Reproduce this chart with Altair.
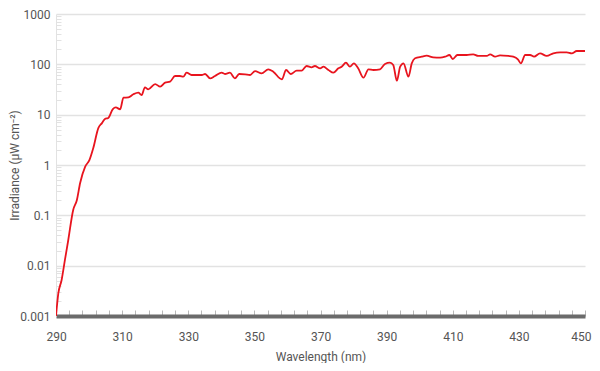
import altair as alt
import pandas as pd

wavelength = [290.0, 290.7, 291.7, 292.7, 293.7, 295.2, 296.3, 297.3, 298.8, 300.1,
              301.3, 302.8, 303.9, 304.8, 305.8, 307.2, 308.1, 309.4, 310.4, 311.9,
              313.4, 314.9, 315.9, 316.9, 317.9, 320.0, 321.5, 323.0, 324.5, 326.0,
              327.5, 328.5, 329.5, 331.0, 332.6, 334.1, 335.1, 336.6, 338.1, 340.1,
              341.1, 342.6, 344.1, 345.4, 347.2, 348.7, 350.2, 352.2, 354.2, 355.7,
              358.3, 359.6, 361.0, 362.8, 364.3, 365.8, 367.3, 368.3, 369.9, 370.9,
              372.4, 373.9, 375.4, 376.4, 377.7, 378.9, 380.1, 381.4, 383.0, 384.5,
              386.0, 388.0, 389.5, 391.0, 392.0, 393.1, 394.1, 395.1, 396.6, 397.6,
              398.6, 400.6, 402.1, 404.1, 406.2, 407.7, 409.0, 410.0, 411.4, 414.2,
              416.2, 417.7, 420.3, 421.3, 422.8, 424.3, 426.8, 428.3, 429.7, 430.6,
              431.9, 433.4, 434.6, 436.4, 438.4, 440.4, 442.5, 444.5, 446.0, 447.5,
              450.0]

irradiance = [0.001, 0.0028, 0.0052, 0.013, 0.032, 0.128, 0.2, 0.44, 0.92, 1.25,
              2.2, 5.4, 6.8, 8.2, 8.6, 12.9, 13.9, 12.8, 21.7, 22.1,
              25.4, 27.3, 24.6, 35.0, 31.9, 40.6, 36.0, 43.2, 45.2, 58.6,
              58.6, 56.8, 68.2, 61.4, 61.4, 61.4, 64.3, 52.8, 58.6, 68.2,
              64.3, 68.2, 52.8, 64.3, 63.4, 61.4, 73.6, 66.3, 79.6, 71.4,
              50.5, 77.1, 64.3, 74.7, 74.7, 92.7, 87.3, 92.7, 83.3, 89.7,
              77.1, 68.2, 83.3, 89.7, 107.7, 89.7, 104.7, 83.3, 54.2, 79.6,
              77.1, 79.6, 101.6, 107.7, 97.1, 47.3, 89.7, 104.7, 56.8, 104.7,
              131.8, 141.8, 148.4, 137.9, 135.5, 141.8, 153.2, 127.6, 153.2, 153.2,
              158.1, 146.6, 146.6, 158.1, 141.8, 151.0, 146.6, 141.8, 126.0, 104.7,
              153.2, 153.2, 141.8, 165.5, 146.6, 165.5, 173.3, 173.3, 165.5, 184.1,
              184.1]

x_ticks = [290, 310, 330, 350, 370, 390, 410, 430, 450]
x_minor = list(range(290, 451, 4))
y_ticks = [0.001, 0.01, 0.1, 1, 10, 100, 1000]
y_minor = [k * 10.0 ** e for e in range(-3, 3) for k in range(2, 10)]

df = pd.DataFrame({"wl": wavelength, "irr": irradiance})

FONT = "Roboto"
TXT = "#555555"

xscale = alt.Scale(domain=[290, 450], nice=False, zero=False)
yscale = alt.Scale(type="log", domain=[0.001, 1000], nice=False)

last_label = "datum.value >= 450"

main = alt.Chart(df).mark_line(
    color="#e8141e", strokeWidth=1.8, interpolate="monotone", clip=True
).encode(
    x=alt.X("wl:Q", scale=xscale, axis=alt.Axis(
        values=x_ticks, title="Wavelength (nm)", orient="bottom",
        domainColor="#6b6b6b", domainWidth=4, ticks=False, grid=False,
        labelFlush=False,
        labelAlign={"condition": {"test": last_label, "value": "right"}, "value": "center"},
        labelOffset={"condition": {"test": last_label, "value": 6}, "value": 0},
        labelPadding=15, labelFontSize=12, labelColor=TXT,
        labelFont=FONT, titleFont=FONT, titleFontSize=12, titleColor=TXT,
        titleFontWeight="normal", titlePadding=9)),
    y=alt.Y("irr:Q", scale=yscale, axis=alt.Axis(
        values=y_ticks, format="~g", title="Irradiance (µW cm⁻²)", orient="left",
        domainColor="#e2e2e2", domainWidth=1, ticks=False, grid=True,
        gridColor="#e2e2e2", gridWidth=1.5, labelFlush=False,
        labelPadding=6, labelFontSize=12, labelColor=TXT, labelFont=FONT,
        titleFont=FONT, titleFontSize=12, titleColor=TXT, titleFontWeight="normal",
        titleX=-35, titleY=151)),
)

minor = alt.Chart(df).mark_point(opacity=0).encode(
    x=alt.X("wl:Q", scale=xscale, axis=alt.Axis(
        values=x_minor, orient="bottom", offset=-6, tickSize=6, tickColor="#b8b8b8",
        tickWidth=1, domain=False, labels=False, grid=False, title=None)),
    y=alt.Y("irr:Q", scale=yscale, axis=alt.Axis(
        values=y_minor, orient="left", offset=-5, tickSize=5, tickColor="#e2e2e2",
        tickWidth=1, domain=False, labels=False, grid=False, title=None)),
)

chart = alt.layer(minor, main).resolve_axis(x="independent", y="independent").properties(
    width=529, height=302,
    padding={"left": 48, "top": 6, "right": 7, "bottom": 47},
    autosize=alt.AutoSizeParams(type="none"),
).configure_view(stroke=None)

chart.save("out.html", embed_options={"renderer": "svg", "actions": False})
